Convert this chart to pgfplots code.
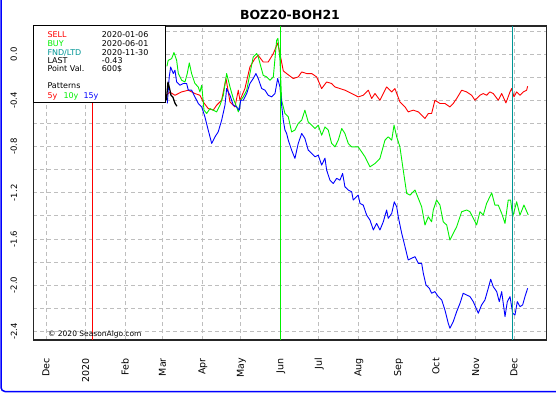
\documentclass[border=0pt]{standalone}
\usepackage{fontspec}
\setmainfont{DejaVu Sans}
\usepackage{pgfplots}
\pgfplotsset{compat=1.18}
\definecolor{cred}{RGB}{255,0,0}
\definecolor{cgreen}{RGB}{0,240,0}
\definecolor{cblue}{RGB}{0,0,255}
\definecolor{cteal}{RGB}{0,150,150}
\definecolor{cgrid}{RGB}{190,190,190}
\begin{document}
\begin{tikzpicture}
\begin{axis}[
  at={(33.3pt,54pt)}, anchor=south west,
  scale only axis, width=513.4pt, height=314pt,
  xmin=-9.9, xmax=391.6, ymin=-2.475, ymax=0.245,
  xtick={0,31,62,91,122,152,183,213,244,275,305,336,366},
  xticklabels={Dec,2020,Feb,Mar,Apr,May,Jun,Jul,Aug,Sep,Oct,Nov,Dec},
  ytick={-2.4,-2.0,-1.6,-1.2,-0.8,-0.4,0},
  yticklabels={-2.4,-2.0,-1.6,-1.2,-0.8,-0.4,0.0},
  minor ytick={-2.2,-1.8,-1.4,-1.0,-0.6,-0.2,0.2},
  grid=both,
  major grid style={cgrid, dash pattern=on 4pt off 3pt, line width=0.9pt},
  minor grid style={cgrid, dash pattern=on 4pt off 3pt, line width=0.9pt},
  major tick length=0pt, minor tick length=0pt,
  axis line style={line width=1.2pt, black!85},
  xticklabel style={rotate=90, anchor=east, inner sep=0pt, font=\fontsize{9.5}{10}\selectfont, text height=6.9pt, text depth=0pt},
  yticklabel style={rotate=90, anchor=south, inner sep=0pt, font=\fontsize{8.5}{10}\selectfont},
  xticklabel shift=18pt,
  yticklabel shift=16pt,
  every axis plot/.append style={line join=round, no markers},
]
% 5y pattern
\addplot[draw=cred, line width=0.9pt] coordinates {
(93.8,-0.355) (97.0,-0.329) (100.9,-0.355) (106.1,-0.326) (111.3,-0.311) (116.5,-0.340)
(120.4,-0.355) (123.0,-0.413) (126.9,-0.470) (130.8,-0.484) (133.5,-0.441) (137.4,-0.398)
(140.8,-0.210) (143.9,-0.413) (147.8,-0.456) (150.4,-0.311) (151.7,-0.398) (155.6,-0.297)
(159.5,-0.110) (163.4,-0.037) (166.0,-0.009) (169.9,-0.067) (173.8,-0.067) (177.8,0.006)
(181.2,0.098) (183.0,0.006) (185.6,-0.144) (188.2,-0.167) (193.4,-0.210) (197.3,-0.196)
(200.0,-0.153) (203.9,-0.167) (207.8,-0.167) (211.7,-0.196) (215.6,-0.297) (219.5,-0.240)
(223.4,-0.253) (226.0,-0.283) (229.9,-0.297) (233.8,-0.311) (239.1,-0.340) (244.2,-0.369)
(248.1,-0.355) (252.1,-0.311) (254.7,-0.383) (257.3,-0.340) (261.2,-0.398) (266.4,-0.283)
(270.4,-0.326) (272.9,-0.297) (276.8,-0.413) (280.8,-0.456) (283.3,-0.499) (287.2,-0.484)
(291.2,-0.499) (293.8,-0.528) (296.4,-0.556) (299.0,-0.513) (301.6,-0.513) (304.2,-0.398)
(308.1,-0.426) (312.0,-0.426) (315.9,-0.456) (318.5,-0.426) (321.2,-0.383) (325.1,-0.311)
(329.0,-0.326) (332.9,-0.355) (335.5,-0.398) (339.4,-0.355) (342.0,-0.340) (344.6,-0.355)
(347.2,-0.326) (349.8,-0.340) (353.7,-0.398) (356.4,-0.340) (359.7,-0.421) (362.9,-0.326)
(364.2,-0.297) (366.0,-0.369) (368.1,-0.326) (370.7,-0.355) (373.3,-0.326) (375.9,-0.311)
(376.7,-0.277)
};
% 10y pattern
\addplot[draw=cgreen, line width=0.9pt] coordinates {
(94.6,-0.104) (95.6,-0.052) (98.3,-0.037) (100.1,0.015) (102.2,-0.052) (103.5,-0.167)
(106.1,-0.225) (108.7,-0.240) (110.5,-0.167) (112.1,-0.075) (113.9,-0.167) (116.5,-0.253)
(119.1,-0.283) (120.4,-0.326) (121.8,-0.268) (123.6,-0.484) (125.7,-0.513) (128.3,-0.470)
(130.8,-0.484) (133.5,-0.499) (136.1,-0.441) (138.7,-0.355) (141.3,-0.167) (143.9,-0.283)
(146.5,-0.383) (149.1,-0.456) (150.4,-0.499) (152.3,-0.398) (154.3,-0.369) (157.0,-0.311)
(159.5,-0.167) (162.1,-0.023) (164.8,0.006) (166.0,-0.023) (167.4,-0.080) (169.9,-0.182)
(172.6,-0.196) (175.2,-0.225) (177.8,-0.196) (180.4,0.121) (181.4,0.138) (183.0,-0.052)
(184.3,-0.398) (186.9,-0.513) (189.5,-0.542) (192.1,-0.672) (194.7,-0.657) (197.3,-0.599)
(200.0,-0.571) (202.5,-0.484) (205.1,-0.586) (207.8,-0.614) (210.4,-0.643) (213.0,-0.614)
(215.6,-0.701) (218.2,-0.629) (220.8,-0.657) (223.4,-0.772) (226.0,-0.802) (228.6,-0.744)
(231.3,-0.643) (233.8,-0.686) (236.4,-0.772) (239.1,-0.802) (244.2,-0.802) (249.5,-0.888)
(253.4,-0.975) (257.3,-0.946) (261.2,-0.902) (265.1,-0.744) (267.7,-0.715) (270.4,-0.744)
(272.2,-0.614) (274.3,-0.715) (276.8,-0.802) (279.4,-1.003) (282.1,-1.205) (284.7,-1.220)
(288.6,-1.176) (291.2,-1.248) (293.8,-1.321) (296.4,-1.479) (299.0,-1.407) (301.6,-1.451)
(302.9,-1.349) (305.5,-1.263) (308.1,-1.306) (310.7,-1.451) (313.4,-1.479) (315.9,-1.609)
(318.5,-1.551) (321.2,-1.494) (325.1,-1.364) (329.0,-1.349) (331.6,-1.364) (334.2,-1.421)
(336.8,-1.479) (339.4,-1.364) (342.0,-1.393) (344.6,-1.292) (348.6,-1.200) (351.1,-1.306)
(353.7,-1.306) (356.4,-1.378) (359.0,-1.465) (361.5,-1.263) (363.4,-1.263) (365.0,-1.407)
(368.1,-1.278) (370.7,-1.393) (373.8,-1.306) (377.2,-1.393)
};
% 15y pattern
\addplot[draw=cblue, line width=0.9pt] coordinates {
(94.9,-0.426) (96.4,-0.196) (97.5,-0.110) (99.6,-0.167) (100.9,-0.138) (102.2,-0.240)
(104.8,-0.268) (107.4,-0.253) (110.0,-0.253) (111.3,-0.311) (113.9,-0.311) (116.5,-0.369)
(119.1,-0.426) (121.8,-0.456) (124.3,-0.542) (126.9,-0.657) (129.6,-0.772) (132.2,-0.715)
(134.7,-0.672) (137.4,-0.571) (140.0,-0.441) (141.3,-0.297) (143.9,-0.355) (146.5,-0.441)
(149.1,-0.456) (151.2,-0.484) (152.3,-0.398) (154.3,-0.398) (157.0,-0.340) (159.5,-0.253)
(162.1,-0.210) (164.2,-0.167) (166.0,-0.210) (168.7,-0.297) (171.3,-0.311) (173.8,-0.355)
(176.5,-0.369) (179.1,-0.340) (181.2,-0.210) (183.0,-0.283) (184.3,-0.441) (185.6,-0.571)
(186.9,-0.657) (188.2,-0.686) (189.5,-0.744) (192.1,-0.830) (194.7,-0.902) (197.3,-0.772)
(200.0,-0.686) (202.5,-0.729) (205.1,-0.830) (207.8,-0.859) (210.4,-0.888) (213.0,-0.874)
(215.6,-0.960) (218.2,-0.900) (219.5,-1.003) (222.1,-1.090) (224.7,-1.119) (227.3,-1.075)
(229.9,-1.090) (232.0,-1.032) (233.8,-1.148) (236.4,-1.176) (239.1,-1.191) (240.3,-1.263)
(244.2,-1.220) (245.6,-1.292) (248.1,-1.306) (250.8,-1.393) (253.4,-1.436) (256.0,-1.522)
(258.6,-1.465) (261.2,-1.522) (263.8,-1.451) (266.4,-1.349) (267.7,-1.421) (270.4,-1.378)
(272.4,-1.278) (274.3,-1.321) (275.5,-1.407) (278.2,-1.551) (280.8,-1.667) (283.3,-1.782)
(286.0,-1.767) (288.6,-1.753) (291.2,-1.811) (293.8,-1.811) (295.1,-1.897) (297.2,-1.998)
(299.8,-2.027) (301.6,-2.070) (304.2,-2.056) (306.8,-2.099) (309.5,-2.128) (312.0,-2.215)
(314.6,-2.330) (315.9,-2.373) (318.5,-2.316) (321.2,-2.229) (323.8,-2.157) (326.3,-2.070)
(329.0,-2.085) (331.6,-2.099) (334.2,-2.143) (338.1,-2.243) (340.7,-2.171) (343.3,-2.128)
(345.9,-2.027) (347.8,-1.949) (349.8,-2.013) (352.5,-2.056) (354.5,-2.143) (356.4,-2.056)
(359.0,-2.272) (360.8,-2.143) (362.9,-2.099) (365.0,-2.243) (366.8,-2.258) (368.6,-2.143)
(370.7,-2.186) (372.8,-2.171) (374.6,-2.099) (376.7,-2.027)
};
% actual (last)
\addplot[draw=black, line width=1.3pt] coordinates {
(94.2,-0.398) (95.4,-0.242) (96.6,-0.294) (97.8,-0.355) (99.3,-0.372) (100.9,-0.424) (102.4,-0.450)
};
% vertical marker lines: SELL, BUY, FND/LTD
\addplot[draw=cred, line width=0.8pt] coordinates {(36,-2.475) (36,0.245)};
\addplot[draw=cgreen, line width=0.8pt] coordinates {(183,-2.475) (183,0.245)};
\addplot[draw=cteal, line width=0.8pt] coordinates {(365,-2.475) (365,0.245)};
\node[anchor=west, inner sep=0pt, font=\fontsize{7.5}{9}\selectfont] at (axis cs:1.5,-2.426) {© 2020 SeasonAlgo.com};
\end{axis}
% info box
\draw[fill=white, line width=1pt] (33.3pt,291.3pt) rectangle (165pt,368pt);
\begin{scope}[every node/.style={anchor=base west, inner sep=0pt, font=\fontsize{8}{9}\selectfont}]
\node[text=cred] at (47.3pt,356.8pt) {SELL};
\node at (101.7pt,356.8pt) {2020-01-06};
\node[text=cgreen] at (47.3pt,347.8pt) {BUY};
\node at (101.7pt,347.8pt) {2020-06-01};
\node[text=cteal] at (47.3pt,338.8pt) {FND/LTD};
\node at (101.7pt,338.8pt) {2020-11-30};
\node at (47.3pt,330.8pt) {LAST};
\node at (101.7pt,330.8pt) {-0.43};
\node at (47.3pt,322.4pt) {Point Val.};
\node at (101.7pt,322.4pt) {600\$};
\node at (47.3pt,305.1pt) {Patterns};
\node[text=cred] at (47.3pt,295.8pt) {5y};
\node[text=cgreen] at (63.3pt,295.8pt) {10y};
\node[text=cblue] at (83.3pt,295.8pt) {15y};
\end{scope}
% title
\node[font=\bfseries\fontsize{12.5}{14}\selectfont] at (290pt,379pt) {BOZ20-BOH21};
% outer border
\draw[cblue, line width=1.5pt, rounded corners=4pt] (1pt,394pt) -- (1pt,2.5pt) -- (556pt,2.5pt);
\pgfresetboundingbox
\useasboundingbox (0pt,0pt) rectangle (556pt,394pt);
\end{tikzpicture}
\end{document}
